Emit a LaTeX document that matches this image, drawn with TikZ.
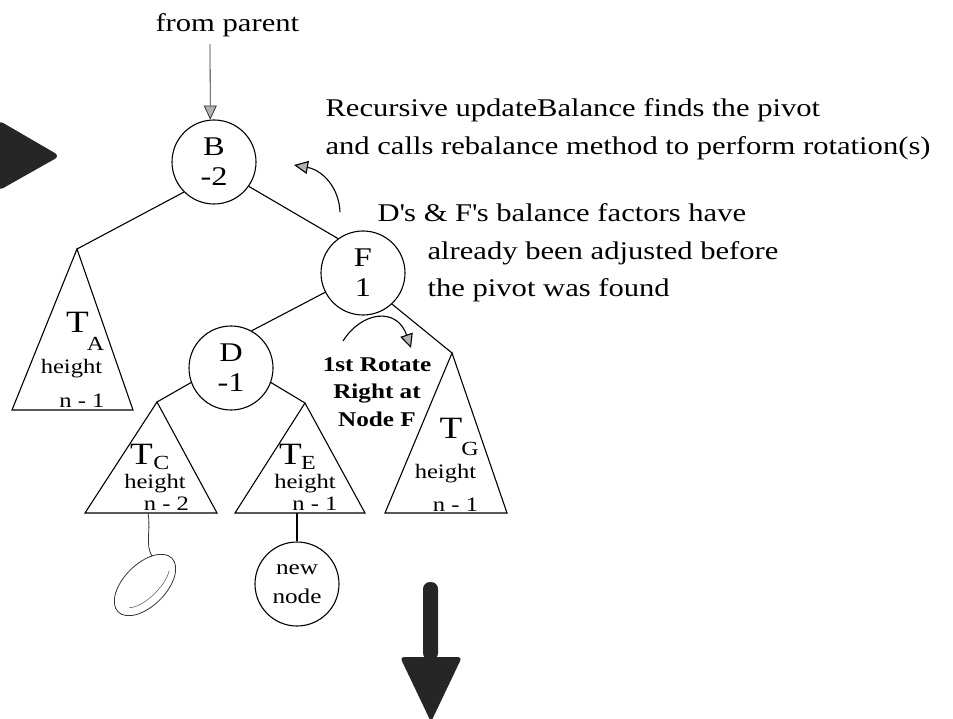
\documentclass[tikz,border=0pt]{standalone}
\usepackage{fontspec}
\setmainfont[FakeStretch=1.2]{Liberation Serif}
\usetikzlibrary{arrows.meta}
\begin{document}
\begin{tikzpicture}[x=1pt,y=-1pt,line width=1.1pt,
  circ/.style={draw,circle,minimum size=84pt,inner sep=0pt,align=center,font=\fontsize{27}{30}\selectfont},
  lbl/.style={inner sep=0pt,font=\fontsize{25.5}{37}\selectfont},
  bigT/.style={inner sep=0pt,anchor=base,font=\fontsize{31}{31}\selectfont},
  subT/.style={inner sep=0pt,anchor=base,font=\fontsize{20}{20}\selectfont},
  hgt/.style={inner sep=0pt,anchor=base,font=\fontsize{20.5}{21}\selectfont},
  tip/.style={-{Triangle[length=14pt,width=13pt,fill=gray!60]}},
  scrib/.style={line width=0.8pt,black!80},
  blob/.style={fill=black!85,draw=none}
]
\useasboundingbox (0,0) rectangle (953,719);

% big filled arrows
\path[blob,rounded corners=6pt] (-2,120) -- (60,156) -- (-2,191) -- cycle;
\path[blob,rounded corners=7pt] (423,660) -- (423,582) -- (438,582) -- (438,660) -- cycle;
\path[blob,rounded corners=4pt] (400,657) -- (462,657) -- (431,722) -- cycle;

% tree nodes
\node[circ] (B) at (214,162) {B\\-2};
\node[circ] (F) at (363,273) {F\\1};
\node[circ] (D) at (231,368) {D\\-1};
\node[circ,font=\fontsize{21}{29}\selectfont] (N) at (297,584) {new\\node};

% subtree triangles
\coordinate (TAt) at (77,249);
\coordinate (TCt) at (157,402);
\coordinate (TEt) at (305,403);
\coordinate (TGt) at (452,353);
\coordinate (TEb) at (297,513);
\coordinate (TCb) at (148,513);
\draw (TAt) -- (12,410) -- (133,410) -- cycle;
\draw (TCt) -- (85,513) -- (217,513) -- cycle;
\draw (TEt) -- (235,513) -- (365,513) -- cycle;
\draw (TGt) -- (385,513) -- (507,513) -- cycle;

% subtree labels
\node[bigT] (tA) at (77.5,333) {T};
\node[subT] (sA) at (95.5,350) {A};
\node[hgt] (hA) at (71.5,373) {height};
\node[hgt] (nA) at (82,407) {n - 1};

\node[bigT] (tC) at (141.5,464) {T};
\node[subT] (sC) at (161.5,469) {C};
\node[hgt] (hC) at (155,488) {height};
\node[hgt] (nC) at (166.5,510) {n - 2};

\node[bigT] (tE) at (290.5,464) {T};
\node[subT] (sE) at (308.5,469) {E};
\node[hgt] (hE) at (305,488) {height};
\node[hgt] (nE) at (315,510) {n - 1};

\node[bigT] (tG) at (451,438) {T};
\node[subT] (sG) at (470,455) {G};
\node[hgt] (hG) at (445.5,478) {height};
\node[hgt] (nG) at (455.5,511) {n - 1};

% edges
\draw (B.225) -- (TAt);
\draw (B.-35) -- (F.126);
\draw (F.207) -- (D.61);
\draw (D.200) -- (TCt);
\draw (D.-20) -- (TEt);
\draw (F.-47) -- (TGt);
\draw (TEb) -- (N.north);

% from parent
\node[lbl,anchor=base west] (fp) at (155,32) {from parent};
\coordinate (fpend) at (210,44);
\draw[tip,line width=0.8pt,black!80] (fpend) -- (B.95);

% scribbled node under T_C
\draw[scrib] (TCb) .. controls (151,530) and (145,545) .. (152,556);
\draw[scrib,rotate around={45:(145,585)}] (145,585) ellipse [x radius=38pt,y radius=21pt];
\draw[scrib,black!60,line width=0.6pt,rotate around={45:(145,585)}] (118,590) arc[start angle=200,end angle=330,x radius=30pt,y radius=12pt];

% curved arrows
\coordinate (c1s) at (340,212);
\coordinate (c1e) at (294,165);
\draw[tip] (c1s) .. controls (339,187) and (322,170) .. (c1e);
\coordinate (c2s) at (343,341);
\coordinate (c2e) at (411,348);
\draw[tip] (c2s) .. controls (362,311) and (397,307) .. (c2e);

% rotation label
\node[inner sep=0pt,align=center,font=\bfseries\fontsize{21}{27.5}\selectfont] (rot) at (377,392) {1st Rotate\\Right at\\Node F};

% explanatory text
\node[lbl,anchor=base west] (r1) at (325,117) {Recursive updateBalance finds the pivot};
\node[lbl,anchor=base west] (r2) at (325,155) {and calls rebalance method to perform rotation(s)};
\node[lbl,anchor=base west] (d1) at (377,222) {D\textquotesingle s \& F\textquotesingle s balance factors have};
\node[lbl,anchor=base west] (d2) at (427,260) {already been adjusted before};
\node[lbl,anchor=base west] (d3) at (427,297) {the pivot was found};
\end{tikzpicture}
\end{document}
